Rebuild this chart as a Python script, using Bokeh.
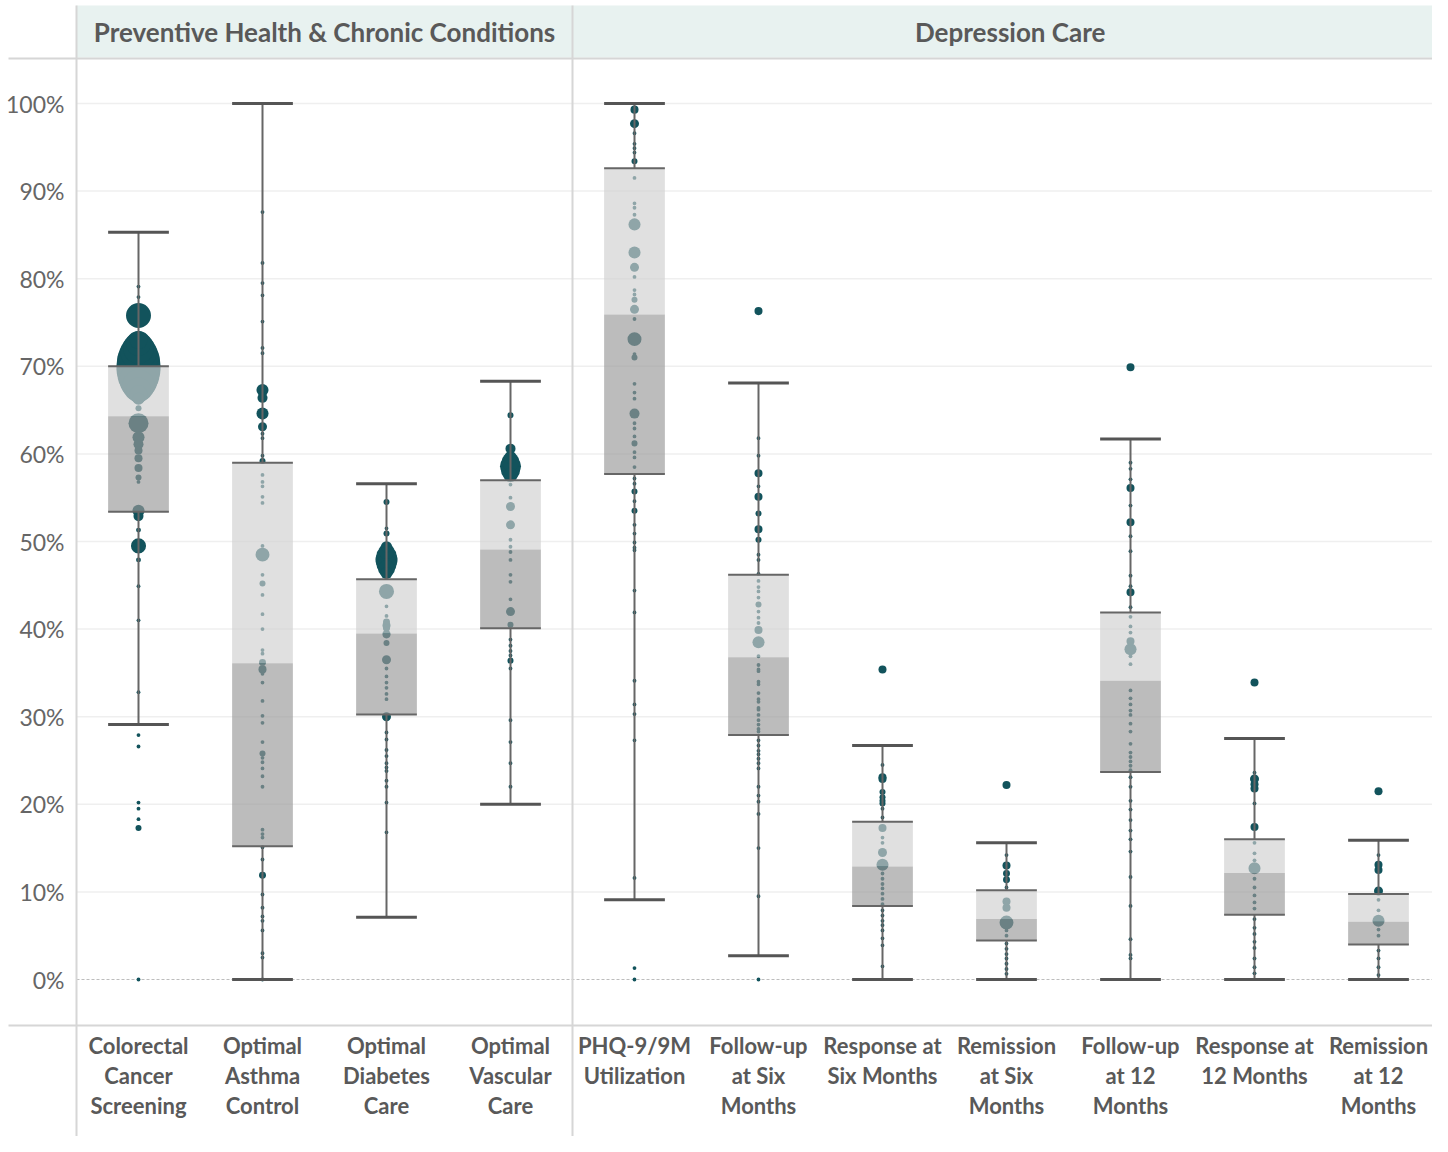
import numpy as np
from bokeh.plotting import figure
from bokeh.models import Range1d, FixedTicker, PrintfTickFormatter, ColumnDataSource, LinearAxis
from bokeh.core.properties import value
from bokeh.embed import file_html
from bokeh.resources import INLINE

# ---------------- data ----------------
panels = ["Preventive Health & Chronic Conditions", "Depression Care"]
panel_sizes = [4, 7]
categories = [
    "Colorectal\nCancer\nScreening",
    "Optimal\nAsthma\nControl",
    "Optimal\nDiabetes\nCare",
    "Optimal\nVascular\nCare",
    "PHQ-9/9M\nUtilization",
    "Follow-up\nat Six\nMonths",
    "Response at\nSix Months",
    "Remission\nat Six\nMonths",
    "Follow-up\nat 12\nMonths",
    "Response at\n12 Months",
    "Remission\nat 12\nMonths",
]
whisker_high = [85.3, 100.0, 56.6, 68.3, 100.0, 68.1, 26.7, 15.6, 61.7, 27.5, 15.9]
q3 = [70.0, 59.0, 45.7, 57.0, 92.6, 46.2, 18.0, 10.2, 41.9, 16.0, 9.75]
median = [64.3, 36.1, 39.5, 49.1, 75.9, 36.8, 12.9, 6.9, 34.1, 12.15, 6.6]
q1 = [53.4, 15.2, 30.25, 40.1, 57.7, 27.9, 8.4, 4.45, 23.7, 7.4, 4.0]
whisker_low = [29.1, 0.0, 7.1, 20.0, 9.1, 2.7, 0.0, 0.0, 0.0, 0.0, 0.0]
y_ticks = [0, 10, 20, 30, 40, 50, 60, 70, 80, 90, 100]

S = 18  # a small clinic (patients)

crc_vals = [79.1, 77.9, 75.8, 73.0, 72.6, 72.1, 71.6, 71.1, 70.6, 70.1, 69.6, 69.0, 68.4, 67.8,
            67.3, 66.8, 66.3, 65.2, 63.5, 61.9, 61.1, 60.4, 59.5, 58.4, 57.3, 56.8, 53.5, 52.9,
            51.3, 49.5, 47.9, 44.9, 41.0, 32.8, 27.9, 26.6, 20.2, 19.5, 18.3, 17.3, 0.0]
crc_pts = [S, S, 770, 400, 770, 1190, 1600, 1975, 2280, 2390, 2390, 2180, 1780, 1265,
           770, 400, 180, 45, 495, 180, 125, 80, 80, 80, 45, S, 180, 125,
           30, 280, 30, S, S, S, S, S, S, S, S, 45, S]

asth_vals = [87.6, 81.8, 79.5, 78.1, 75.1, 72.1, 71.5, 67.3, 66.4, 64.6, 63.1, 62.3, 61.8, 59.8,
             59.2, 57.6, 56.8, 56.3, 55.1, 54.4, 49.5, 48.5, 46.2, 45.2, 43.9, 41.7, 40.0, 37.6,
             37.2, 36.2, 35.4, 34.9, 33.9, 31.8, 30.1, 29.3, 27.1, 25.8, 25.3, 24.8, 24.1, 23.2,
             22.0, 17.1, 16.6, 16.2, 15.1, 13.7, 11.9, 9.7, 8.2, 7.2, 6.7, 5.6, 3.0, 2.5, 0.0]
asth_pts = [S, S, S, S, S, S, S, 180, 125, 180, 100, S, S, S,
            45, S, S, S, S, S, S, 240, S, 45, S, S, S, S,
            S, 60, 80, S, S, S, S, S, S, 45, S, S, S, S,
            S, S, S, S, S, S, 60, S, S, S, S, S, S, S, S]

diab_vals = [54.5, 51.5, 50.9, 49.4, 48.9, 48.4, 47.9, 47.4, 46.9, 46.4, 44.3, 42.6, 41.5, 40.8,
             40.4, 40.1, 39.4, 38.4, 36.5, 35.5, 34.6, 33.9, 33.3, 32.6, 32.0, 30.0, 28.2, 27.4,
             26.2, 25.5, 24.7, 24.2, 23.8, 22.7, 22.0, 20.2, 16.8]
diab_pts = [45, S, 45, 150, 300, 500, 600, 500, 350, 180, 280, S, S, 60,
            80, 60, 80, 45, 100, S, S, S, S, S, S, 100, S, S,
            S, S, S, S, S, S, S, S, S]

vasc_vals = [64.4, 60.6, 59.6, 59.1, 58.6, 58.1, 57.6, 56.5, 55.0, 54.0, 51.9, 50.2, 49.4, 48.8,
             47.9, 46.2, 45.4, 43.4, 42.0, 40.5, 38.8, 38.1, 37.5, 37.0, 36.4, 35.5, 29.6, 27.1,
             24.7, 22.0]
vasc_pts = [45, 125, 200, 400, 545, 450, 250, S, S, 100, 100, S, S, S,
            S, S, S, S, 100, 45, S, S, S, S, 45, S, S, S,
            S, S]

phq_vals = [99.3, 97.7, 96.6, 95.4, 94.9, 94.4, 93.4, 91.5, 88.6, 88.1, 87.3, 86.2, 83.0, 81.3,
            80.2, 78.7, 78.2, 77.6, 76.5, 75.4, 73.1, 71.4, 71.0, 68.0, 67.0, 66.3, 64.6, 63.5,
            62.9, 62.0, 61.2, 60.2, 59.6, 58.5, 57.2, 56.6, 55.7, 54.6, 53.5, 51.9, 50.9, 49.9,
            49.3, 49.0, 44.4, 41.9, 34.1, 31.4, 30.3, 27.3, 11.6, 1.3, 0.0]
phq_pts = [80, 100, S, S, S, S, 45, S, S, S, S, 180, 180, 100,
           S, S, S, 45, 100, S, 240, S, 45, S, S, S, 125, S,
           S, S, 45, S, S, S, S, S, 45, S, 45, S, S, S,
           S, S, S, S, S, S, S, S, S, S, S]

fu6_vals = [76.3, 61.8, 59.8, 57.8, 56.3, 55.1, 53.2, 51.4, 50.2, 48.5, 47.9, 46.3, 45.5, 44.8,
            44.3, 43.6, 42.8, 42.0, 41.3, 40.7, 39.9, 38.5, 36.9, 35.9, 35.4, 35.2, 34.0, 33.7,
            32.7, 32.0, 31.7, 31.0, 30.8, 30.2, 29.6, 29.1, 28.6, 28.3, 27.3, 26.7, 26.1, 25.7,
            25.2, 24.7, 24.1, 22.0, 21.0, 20.3, 18.9, 15.0, 9.5, 0.0]
fu6_pts = [80, S, S, 80, S, 80, 45, 80, 45, S, S, S, S, S,
           S, S, 45, S, S, S, 80, 180, S, S, S, S, S, S,
           S, S, S, S, S, S, S, S, S, S, S, S, S, S,
           S, S, S, S, S, S, S, S, S, S]

rsp6_vals = [35.4, 24.5, 23.1, 22.9, 21.4, 20.8, 20.4, 20.1, 19.5, 18.5, 17.3, 16.2, 15.6, 14.5,
             13.1, 12.1, 11.5, 10.9, 10.4, 9.8, 9.2, 8.6, 7.9, 7.3, 6.7, 6.2, 5.6, 4.7, 3.9, 1.5]
rsp6_pts = [80, S, 80, 80, 45, 45, 45, 45, S, S, 80, S, S, 100,
            180, S, S, S, S, S, S, S, S, S, S, S, S, S, S, S]

rem6_vals = [22.2, 14.2, 13.0, 12.1, 11.4, 10.5, 8.9, 8.2, 6.5, 5.6, 5.0, 4.1, 3.5, 2.9, 2.4,
             1.8, 1.2, 0.65]
rem6_pts = [80, S, 80, 60, 60, S, 80, 80, 240, S, S, S, S, S, S, S, S, S]

fu12_vals = [69.9, 59.0, 58.3, 57.1, 56.1, 54.1, 52.2, 50.6, 48.9, 46.1, 44.9, 44.2, 42.5, 41.4,
             40.3, 39.6, 38.6, 37.7, 36.9, 36.0, 33.0, 32.1, 31.4, 30.7, 30.2, 29.2, 28.3, 26.9,
             25.9, 25.4, 24.9, 24.4, 23.9, 23.1, 22.0, 20.4, 19.4, 18.2, 17.0, 16.0, 14.6, 11.7,
             8.4, 4.6, 2.8, 2.4]
fu12_pts = [80, S, S, S, 80, S, 80, S, S, S, S, 80, S, S,
            S, S, 80, 180, S, S, S, S, S, S, S, S, S, S,
            S, S, S, S, S, S, S, S, S, S, S, S, S, S,
            S, S, S, S]

rsp12_vals = [33.9, 23.6, 22.9, 22.3, 21.8, 20.1, 17.4, 15.6, 14.4, 13.6, 12.7, 11.5, 10.5, 9.6,
              8.8, 8.1, 6.9, 5.9, 5.2, 4.3, 3.6, 2.4, 1.4, 0.7]
rsp12_pts = [80, S, 100, 80, 80, S, 80, S, S, S, 180, S, S, S,
             S, S, S, S, S, S, S, S, S, S]

rem12_vals = [21.5, 14.2, 13.1, 12.5, 10.1, 9.1, 7.9, 6.7, 5.7, 5.0, 3.3, 2.4, 1.4, 0.5]
rem12_pts = [80, S, 80, 80, 100, S, S, 180, S, S, S, S, S, S]

dot_vals = [crc_vals, asth_vals, diab_vals, vasc_vals, phq_vals, fu6_vals,
            rsp6_vals, rem6_vals, fu12_vals, rsp12_vals, rem12_vals]
dot_pts = [crc_pts, asth_pts, diab_pts, vasc_pts, phq_pts, fu6_pts,
           rsp6_pts, rem6_pts, fu12_pts, rsp12_pts, rem12_pts]

# ---------------- layout constants ----------------
W, H = 1432, 1136
n_cat = len(categories)
xs = list(range(n_cat))
LEFT = 76                                   # pixel of the left panel border
px_x = (1440 - LEFT) / n_cat                # pixels per category
x_start = -0.5 - LEFT / px_x
x_end = -0.5 + (W - LEFT) / px_x
px_y = 8.76                                 # pixels per percentage point
Y100 = 103                                  # pixel row of 100%
y_top = 100 + Y100 / px_y
y_bot = 100 - (H - Y100) / px_y
plot_top = 100 - (58 - Y100) / px_y         # panel area top border
plot_bottom = -5.25                         # panel area bottom border
header_top = 100 - (5 - Y100) / px_y
header_bottom = 100 - (57 - Y100) / px_y
header_mid = 100 - (31 - Y100) / px_y
line_left = x_start + 8 / px_x

BOX_W = 0.49
DOT = "#12535c"
LINE = "#666666"
BORDER = "#d6d6d6"
TEXT = "#595959"

p = figure(width=W, height=H, x_range=Range1d(x_start, x_end),
           y_range=Range1d(y_bot, y_top), output_backend="svg",
           toolbar_location=None, x_axis_type=None, y_axis_type=None,
           min_border=0, min_border_left=0, min_border_right=0,
           min_border_top=0, min_border_bottom=0, outline_line_color=None,
           background_fill_color="white", border_fill_color="white")
p.xgrid.visible = False
p.ygrid.visible = False

# panel boundaries
bounds = [-0.5]
for s in panel_sizes:
    bounds.append(bounds[-1] + s)
lefts, rights = bounds[:-1], bounds[1:]
rights[-1] = x_end + 1
centers = [(a + min(b, n_cat - 0.5 + 0.06)) / 2 for a, b in zip(lefts, rights)]

# header strips
p.quad(left=lefts, right=rights, bottom=header_bottom, top=header_top,
       fill_color="#e8f2f0", line_color=None)
p.text(x=centers, y=[header_mid] * len(panels), text=panels, text_align="center",
       text_baseline="middle", text_font=value("Lato"), text_font_style="bold",
       text_font_size="26px", text_color=TEXT)

# gridlines
grid_vals = [t for t in y_ticks if t > 0]
p.segment(x0=-0.5, x1=x_end + 1, y0=grid_vals, y1=grid_vals,
          line_color="#efefef", line_width=1.5)
p.segment(x0=-0.5, x1=x_end + 1, y0=[0], y1=[0], line_color="#bdbdbd",
          line_width=1, line_dash="3 2")

# border lines
p.segment(x0=line_left, x1=x_end + 1, y0=[plot_top, plot_bottom], y1=[plot_top, plot_bottom],
          line_color=BORDER, line_width=2)
p.segment(x0=lefts, x1=lefts, y0=y_bot - 2, y1=header_top, line_color=BORDER, line_width=2)

# dots
dx, dy, ds = [], [], []
for i, (vals, pts) in enumerate(zip(dot_vals, dot_pts)):
    for v, n in zip(vals, pts):
        dx.append(i)
        dy.append(v)
        ds.append(0.9 * np.sqrt(n))
order = np.argsort(ds)[::-1]
dots = ColumnDataSource(dict(x=[dx[k] for k in order], y=[dy[k] for k in order],
                             s=[float(ds[k]) for k in order]))
p.scatter(x="x", y="y", size="s", source=dots, fill_color=DOT, line_color=None)

# boxes (semi-transparent so the dots show through)
p.vbar(x=xs, width=BOX_W, bottom=median, top=q3, fill_color="#d0d0d0",
       fill_alpha=0.66, line_color=None)
p.vbar(x=xs, width=BOX_W, bottom=q1, top=median, fill_color="#9a9a9a",
       fill_alpha=0.66, line_color=None)
x0s = [x - BOX_W / 2 for x in xs]
x1s = [x + BOX_W / 2 for x in xs]
p.segment(x0=x0s, x1=x1s, y0=q3, y1=q3, line_color=LINE, line_width=2)
p.segment(x0=x0s, x1=x1s, y0=q1, y1=q1, line_color=LINE, line_width=2)

# whiskers and caps
p.segment(x0=xs, x1=xs, y0=q3, y1=whisker_high, line_color=LINE, line_width=2)
p.segment(x0=xs, x1=xs, y0=q1, y1=whisker_low, line_color=LINE, line_width=2)
p.segment(x0=x0s, x1=x1s, y0=whisker_high, y1=whisker_high, line_color="#555555", line_width=3)
p.segment(x0=x0s, x1=x1s, y0=whisker_low, y1=whisker_low, line_color="#555555", line_width=3)

# axes
xaxis = LinearAxis(fixed_location=plot_bottom)
xaxis.ticker = FixedTicker(ticks=xs)
xaxis.major_label_overrides = {i: c for i, c in zip(xs, categories)}
xaxis.axis_line_color = None
xaxis.major_tick_line_color = None
xaxis.minor_tick_line_color = None
xaxis.major_label_standoff = 1
xaxis.major_label_text_font = "Lato"
xaxis.major_label_text_font_style = "bold"
xaxis.major_label_text_font_size = "22px"
xaxis.major_label_text_color = TEXT
xaxis.major_label_text_line_height = 1.1
p.add_layout(xaxis, "below")

yaxis = LinearAxis(fixed_location=-0.5)
yaxis.ticker = FixedTicker(ticks=y_ticks)
yaxis.formatter = PrintfTickFormatter(format="%d%%")
yaxis.axis_line_color = None
yaxis.major_tick_line_color = None
yaxis.minor_tick_line_color = None
yaxis.major_label_standoff = 6
yaxis.major_label_text_font = "Lato"
yaxis.major_label_text_font_size = "23px"
yaxis.major_label_text_color = "#666666"
p.add_layout(yaxis, "left")

open("out.html", "w").write(file_html(p, INLINE))
